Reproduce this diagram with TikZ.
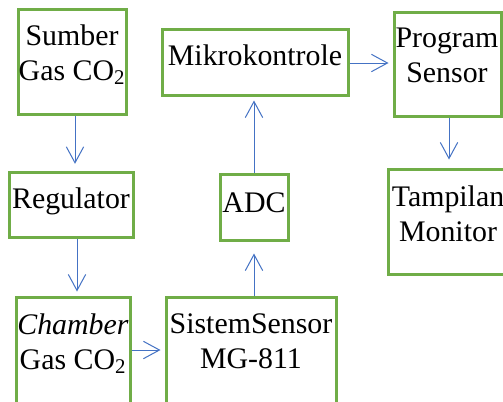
\documentclass[tikz,border=0pt]{standalone}
\usepackage{fontspec}
\setmainfont{Liberation Serif}
\usetikzlibrary{arrows.meta,fit,calc}
\definecolor{boxgreen}{HTML}{70AD47}
\definecolor{arrblue}{HTML}{4472C4}
\tikzset{
  box/.style={draw=boxgreen, line width=2.25pt, inner sep=0pt, fill=white},
  txt/.style={inner sep=0pt, align=center, font=\fontsize{22.4}{26.25}\selectfont},
  arr/.style={draw=arrblue, line width=0.75pt, -{Straight Barb[length=12pt,width=13pt,line width=0.75pt]}},
}
\begin{document}
\begin{tikzpicture}[x=0.75pt,y=-0.75pt]
\useasboundingbox (0,0) rectangle (503,401);
\clip (0,0) rectangle (503,401);
\fill[white] (0,0) rectangle (503,401);
% boxes
\node[box, fit={(18,9) (126,114)}] (sumber) {};
\node[box, fit={(162,29) (348,95)}] (mikro) {};
\node[box, fit={(394,12) (501,116)}] (program) {};
\node[box, fit={(9,172) (133,237)}] (regulator) {};
\node[box, fit={(220,174) (288,240)}] (adc) {};
\node[box, fit={(388,169) (512,274)}] (tampilan) {};
\node[box, fit={(16,297) (130,406)}] (chamber) {};
\node[box, fit={(166,297) (336,406)}] (sistem) {};
% texts (base anchor = baseline of last line)
\node[txt, anchor=base] (sumbert) at (72,80) {Sumber\\Gas CO\textsubscript{2}};
\node[txt, anchor=base] (mikrot) at (255,65) {Mikrokontrole};
\node[txt, anchor=base] (programt) at (447,82) {Program\\Sensor};
\node[txt, anchor=base] (regulatort) at (71,208) {Regulator};
\node[txt, anchor=base] (adct) at (254,212) {ADC};
\node[txt, anchor=base] (tampilant) at (448,241) {Tampilan\\Monitor};
\node[txt, anchor=base] (chambert) at (73,369) {\textit{Chamber}\\Gas CO\textsubscript{2}};
\node[txt, anchor=base] (sistemt) at (251,368) {SistemSensor\\MG-811};
% connector helper coordinates
\coordinate (c1) at (75,0);
\coordinate (c2) at (77,0);
\coordinate (c3) at (254,0);
\coordinate (c4) at (0,350);
\coordinate (c5) at (0,63);
\coordinate (c6) at (449,0);
% arrows
\draw[arr, shorten >=5pt] (sumber.south -| c1) -- (regulator.north -| c1);
\draw[arr, shorten >=3pt] (regulator.south -| c2) -- (chamber.north -| c2);
\draw[arr, shorten >=3pt] (chamber.east |- c4) -- (sistem.west |- c4);
\draw[arr, shorten >=9pt] (sistem.north -| c3) -- (adc.south -| c3);
\draw[arr, shorten >=3pt] (adc.north -| c3) -- (mikro.south -| c3);
\draw[arr, shorten >=3pt] (mikro.east |- c5) -- (program.west |- c5);
\draw[arr, shorten >=6pt] (program.south -| c6) -- (tampilan.north -| c6);
\end{tikzpicture}
\end{document}
